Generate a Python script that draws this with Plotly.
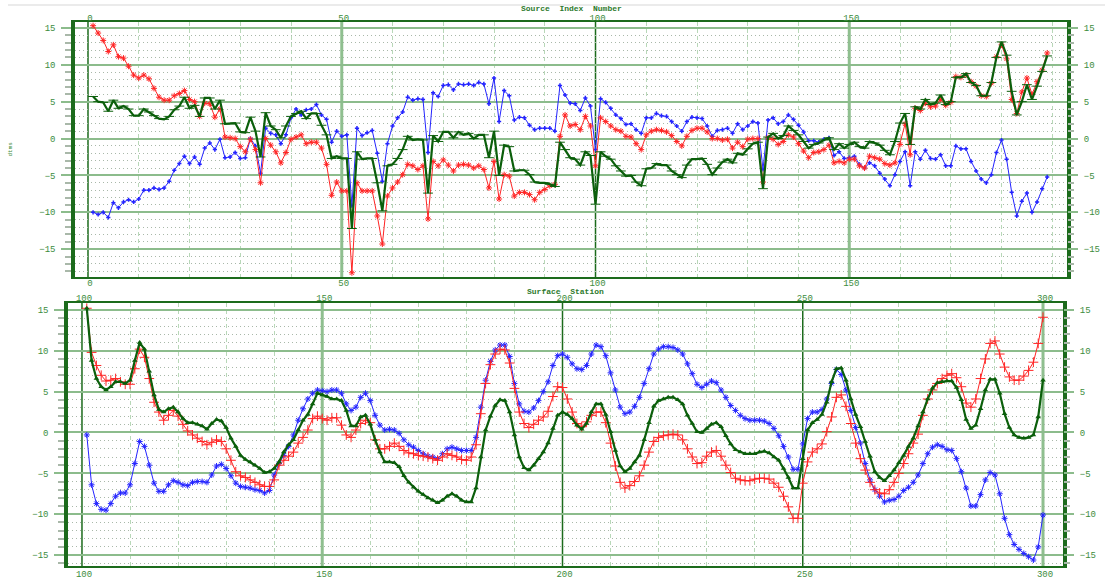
import plotly.graph_objects as go

# ---------------- Source Index Number panel ----------------
src_index = list(range(1, 190))

src_red = [
    15.3, 14.3, 13.3, 11.8, 12.7, 11.1, 10.9, 9.8, 8.6, 8.2,
    8.6, 8.1, 6.8, 5.6, 5.2, 5.2, 5.8, 6.1, 6.5, 5.3,
    5.0, 3.0, 4.8, 4.7, 2.9, 4.0, 0.2, 0.1, 0.0, -1.1,
    -1.8, -0.1, -1.5, -6.0, 0.0, -0.9, -1.8, -3.3, -1.9, -0.1,
    0.2, 0.5, -0.7, -0.5, -0.5, -1.3, -3.5, -7.7, -5.9, -7.1,
    -7.1, -18.2, -6.0, -7.1, -7.1, -7.1, -10.5, -14.3, -7.8, -6.7,
    -5.9, -4.9, -3.5, -3.7, -4.2, -3.7, -10.9, -3.1, -3.7, -2.9,
    -3.6, -4.4, -3.6, -3.5, -3.6, -4.0, -3.7, -4.2, -6.7, -3.1,
    -8.2, -4.9, -5.1, -7.8, -7.3, -7.3, -7.6, -8.3, -7.3, -6.9,
    -6.4, -6.2, 0.3, 3.2, 1.7, 1.9, 1.2, 3.0, 1.7, -3.7,
    2.8, 2.3, 1.7, 1.2, 1.0, 0.3, 0.2, -0.7, -1.5, 0.5,
    1.0, 1.2, 1.1, 0.9, 0.4, -0.4, -1.0, 0.3, 1.1, 1.4,
    1.4, 0.9, 0.0, 0.0, -0.2, -0.1, -1.3, -0.5, -1.1, -0.1,
    0.0, 0.0, -5.9, 0.1, -0.1, -0.8, -0.4, 0.5, 0.2, -0.7,
    -1.7, -2.6, -1.9, -1.8, -1.5, -0.9, -3.3, -3.1, -3.3, -2.8,
    -2.8, -3.7, -4.0, -2.4, -2.6, -2.8, -3.4, -3.6, -3.3, -0.8,
    2.0, -2.2, 4.1, 3.8, 4.8, 4.3, 4.4, 5.3, 4.5, 4.9,
    8.4, 8.3, 8.6, 7.7, 7.1, 5.8, 5.7, 7.5, 11.1, 12.7,
    10.8, 5.3, 3.4, 6.3, 8.2, 6.0, 7.7, 9.3, 11.6,
]

src_blue = [
    -10.0, -10.3, -10.0, -10.7, -8.7, -9.4, -8.6, -8.3, -8.6, -8.2,
    -7.0, -7.0, -6.7, -6.9, -6.7, -5.8, -4.3, -3.4, -2.4, -3.4,
    -2.5, -3.5, -1.3, -0.6, -1.5, -0.1, -2.6, -2.5, -1.9, -2.7,
    -2.6, 0.0, -1.0, -4.7, 1.4, 0.7, 0.5, -0.7, 0.5, 2.8,
    4.0, 3.2, 3.9, 4.0, 4.6, 3.2, 2.6, -0.5, 1.0, 0.3,
    0.5, -9.1, 1.4, 0.4, 0.8, 1.1, -2.0, -5.8, -0.7, 1.7,
    2.8, 3.6, 5.6, 5.2, 5.4, 5.3, -1.9, 6.2, 5.7, 7.2,
    7.3, 6.6, 7.4, 7.3, 7.4, 7.2, 7.6, 7.4, 4.7, 8.2,
    2.3, 6.5, 5.8, 2.5, 2.9, 2.8, 1.8, 1.2, 1.4, 1.4,
    1.4, 1.0, 7.2, 5.9, 4.8, 4.7, 3.8, 5.5, 4.4, -1.5,
    5.4, 4.9, 4.1, 3.2, 2.7, 1.9, 2.0, 1.2, 0.7, 2.8,
    2.8, 3.4, 3.1, 3.0, 2.3, 1.7, 1.0, 2.3, 2.9, 2.8,
    2.7, 1.7, 0.3, 1.1, 1.2, 1.4, 0.7, 2.0, 1.2, 1.7,
    2.3, 2.1, -4.2, 2.5, 2.8, 2.0, 2.3, 3.2, 2.6, 1.8,
    0.9, -0.3, -0.3, -0.5, -0.1, 0.1, -2.3, -1.8, -2.7, -2.6,
    -2.4, -3.5, -4.0, -3.3, -3.7, -4.7, -5.5, -6.4, -4.9, -3.1,
    -1.8, -6.4, -1.8, -2.8, -1.6, -2.7, -2.8, -2.2, -3.7, -3.7,
    -1.0, -1.4, -1.4, -3.1, -4.4, -5.5, -6.0, -4.9, -1.9, -0.2,
    -2.8, -7.3, -10.5, -8.5, -7.4, -10.0, -8.6, -6.8, -5.2,
]

src_green = [
    5.7, 5.0, 4.9, 3.7, 5.2, 4.1, 4.4, 4.0, 3.1, 3.1,
    4.0, 3.6, 3.1, 2.7, 2.6, 3.0, 3.9, 4.4, 5.6, 4.1,
    4.5, 3.0, 5.5, 5.5, 4.0, 5.2, 2.0, 2.0, 2.1, 0.9,
    0.8, 2.9, 1.0, -2.5, 3.5, 1.7, 1.2, 0.1, 1.7, 3.0,
    3.4, 3.7, 2.7, 3.4, 3.4, 1.8, 0.5, -2.7, -2.4, -2.7,
    -2.7, -12.2, -1.8, -2.8, -2.7, -2.7, -6.0, -9.8, -3.7, -3.5,
    -2.7, -1.5, 0.3, -0.2, -0.1, -0.2, -7.4, 0.4, -0.4, 0.9,
    0.9, 0.1, 0.9, 0.5, 0.7, 0.0, 0.5, 0.5, -2.6, 1.0,
    -5.0, -0.9, -1.1, -4.4, -4.3, -4.3, -4.9, -5.9, -6.0, -6.0,
    -6.2, -6.5, -0.5, -1.5, -2.6, -2.8, -3.6, -1.8, -2.3, -8.9,
    -1.8, -2.4, -2.8, -3.7, -4.4, -5.1, -5.0, -5.9, -6.4, -4.1,
    -4.0, -3.4, -3.6, -3.6, -4.4, -4.9, -5.3, -3.6, -2.8, -2.8,
    -2.7, -3.5, -4.9, -4.0, -3.2, -2.8, -3.3, -2.0, -2.2, -1.4,
    -0.7, -0.5, -6.8, 0.2, 0.7, 0.0, 0.4, 1.7, 1.1, 0.5,
    -0.4, -1.3, -0.8, -0.6, -0.2, 0.1, -1.5, -0.7, -1.3, -0.8,
    -0.5, -1.1, -1.3, -0.4, -0.6, -0.9, -1.6, -2.2, -0.4, 2.1,
    3.4, -0.8, 4.3, 4.0, 5.3, 4.6, 4.8, 5.9, 4.6, 5.0,
    8.3, 8.3, 8.8, 7.6, 7.2, 5.8, 5.8, 7.6, 11.0, 13.1,
    11.3, 6.4, 3.2, 5.0, 7.3, 5.3, 7.1, 9.1, 11.2,
]

# ---------------- Surface Station panel ----------------
station = list(range(101, 301))

sta_red = [
    15.2, 9.8, 8.2, 7.0, 6.3, 6.4, 6.6, 6.2, 5.9, 5.9,
    7.8, 10.2, 9.2, 6.6, 3.7, 2.5, 1.5, 2.1, 2.7, 2.0,
    1.0, 0.2, -0.3, -0.7, -1.1, -1.5, -1.2, -0.9, -1.1, -2.0,
    -3.4, -4.8, -5.3, -5.5, -5.8, -6.1, -6.4, -6.6, -6.6, -5.8,
    -4.0, -3.4, -2.9, -2.4, -1.3, -0.6, 0.3, 1.7, 2.0, 1.7,
    1.5, 1.8, 1.8, 0.9, -0.3, -0.6, 0.3, 1.1, 1.5, 1.2,
    -0.9, -2.0, -2.0, -1.7, -1.3, -1.7, -2.2, -2.5, -2.6, -2.8,
    -2.9, -3.0, -3.2, -3.4, -3.0, -2.6, -2.8, -3.0, -3.3, -3.4,
    -3.0, -1.5, 2.3, 6.0, 8.3, 9.6, 10.2, 10.1, 8.5, 5.4,
    2.5, 1.1, 0.6, 1.0, 1.5, 1.9, 2.6, 4.4, 5.6, 5.5,
    4.1, 2.5, 1.1, 0.7, 1.3, 2.1, 2.5, 2.5, 1.2, -1.3,
    -4.1, -6.1, -6.8, -6.5, -6.0, -5.3, -4.0, -2.4, -1.1, -0.6,
    -0.4, -0.3, -0.2, -0.3, -0.9, -2.0, -3.0, -3.8, -3.7, -2.9,
    -2.4, -2.2, -2.9, -4.0, -4.9, -5.6, -5.8, -5.9, -5.9, -5.7,
    -5.6, -5.6, -5.7, -6.2, -6.7, -7.8, -9.1, -10.5, -10.5, -6.2,
    -3.6, -2.4, -2.0, -1.4, 0.1, 1.9, 4.3, 4.6, 3.2, 1.1,
    -1.3, -3.2, -4.6, -6.1, -7.0, -7.4, -7.5, -7.0, -6.1, -5.0,
    -3.8, -2.6, -1.3, -0.2, 2.1, 4.1, 5.2, 6.0, 6.6, 7.0,
    7.2, 6.7, 5.6, 3.6, 3.1, 4.1, 6.6, 9.0, 10.9, 11.2,
    9.6, 8.0, 6.8, 6.4, 6.4, 6.9, 7.6, 8.6, 10.9, 14.1,
]

sta_blue = [
    -0.3, -6.4, -8.7, -9.4, -9.5, -8.7, -7.8, -7.4, -7.4, -6.4,
    -3.8, -1.1, -1.7, -4.0, -6.2, -7.2, -7.2, -6.4, -5.9, -6.1,
    -6.4, -6.5, -6.1, -6.0, -6.0, -6.1, -5.2, -4.1, -3.9, -4.4,
    -5.3, -6.2, -6.6, -6.7, -6.8, -7.0, -7.1, -7.4, -7.1, -5.2,
    -3.8, -2.8, -1.7, -0.3, 1.5, 2.9, 4.1, 4.8, 5.2, 5.1,
    5.0, 5.2, 5.2, 4.8, 3.5, 2.7, 3.1, 4.3, 4.8, 3.9,
    2.1, 0.9, 0.3, 0.4, 0.3, -0.1, -0.9, -1.5, -1.8, -2.2,
    -2.6, -2.9, -3.0, -3.2, -2.6, -2.0, -1.8, -2.0, -2.2, -2.2,
    -2.2, -0.6, 3.1, 6.4, 8.7, 10.1, 10.7, 10.7, 9.3, 6.0,
    3.5, 2.6, 2.5, 3.0, 3.9, 5.0, 6.2, 8.2, 9.4, 9.6,
    9.2, 8.4, 7.8, 7.7, 8.2, 9.6, 10.7, 10.5, 9.4, 7.3,
    5.2, 3.1, 2.3, 2.5, 3.2, 4.3, 6.0, 7.8, 9.6, 10.2,
    10.5, 10.5, 10.4, 10.1, 9.6, 8.4, 7.2, 5.9, 5.5, 5.9,
    6.3, 6.1, 5.2, 4.3, 3.3, 2.7, 2.1, 1.7, 1.5, 1.5,
    1.5, 1.4, 1.1, 0.5, -0.4, -1.7, -3.0, -4.5, -4.5, -1.4,
    1.7, 2.5, 2.5, 2.8, 4.1, 6.0, 7.7, 7.1, 5.2, 2.7,
    0.6, -1.3, -3.8, -5.8, -7.0, -7.8, -8.5, -8.3, -8.2, -7.8,
    -7.1, -6.7, -6.1, -5.2, -3.8, -2.6, -1.8, -1.5, -1.7, -2.1,
    -2.2, -3.2, -4.8, -6.8, -9.0, -9.0, -7.6, -5.8, -4.9, -5.2,
    -7.5, -10.5, -12.5, -13.7, -14.3, -14.8, -15.2, -15.6, -14.0, -10.1,
]

sta_green = [
    15.2, 8.8, 6.6, 5.6, 5.2, 5.6, 6.2, 6.2, 6.0, 6.4,
    8.8, 11.0, 10.2, 7.5, 4.6, 2.8, 2.5, 2.9, 3.1, 2.5,
    1.7, 1.2, 1.2, 1.0, 0.8, 0.4, 1.1, 1.6, 1.4, 0.6,
    -0.7, -1.7, -2.8, -3.3, -3.6, -4.0, -4.4, -4.9, -4.8, -4.4,
    -3.6, -2.4, -1.5, -0.9, 0.3, 1.5, 2.2, 3.5, 4.8, 4.6,
    4.4, 4.1, 4.1, 3.9, 2.7, 0.8, 0.8, 1.9, 2.1, 1.0,
    -0.9, -2.4, -3.6, -3.6, -3.7, -4.2, -5.3, -6.1, -6.7, -7.2,
    -7.6, -8.0, -8.3, -8.6, -8.3, -7.8, -7.5, -7.8, -8.3, -8.5,
    -8.5, -6.8, -3.0, 0.3, 2.0, 3.3, 4.0, 3.9, 2.5, -0.3,
    -3.0, -4.3, -4.6, -4.0, -3.2, -2.4, -1.3, 0.5, 2.1, 2.5,
    2.2, 1.7, 0.9, 0.4, 1.1, 2.5, 3.5, 3.5, 2.2, 0.1,
    -2.2, -4.1, -4.8, -4.4, -3.6, -2.8, -0.9, 1.2, 3.2, 3.9,
    4.1, 4.3, 4.3, 4.0, 3.5, 2.1, 1.1, 0.1, 0.0, 0.5,
    1.0, 1.2, 0.7, -0.4, -1.4, -2.1, -2.4, -2.6, -2.6, -2.6,
    -2.4, -2.3, -2.5, -3.0, -3.4, -4.4, -5.5, -6.8, -6.8, -3.2,
    0.3, 1.2, 1.6, 2.2, 3.7, 6.2, 7.8, 7.9, 6.4, 4.1,
    2.2, 0.7, -1.1, -2.9, -4.8, -5.5, -5.9, -5.3, -4.6, -3.7,
    -2.8, -1.7, -0.7, 0.8, 2.5, 4.1, 5.4, 6.1, 6.2, 6.3,
    6.3, 5.5, 4.0, 1.6, 0.5, 0.9, 2.9, 5.2, 6.5, 6.5,
    4.8, 2.3, 0.6, -0.3, -0.6, -0.7, -0.6, -0.3, 1.9, 6.4,
]

# ---------------- styling ----------------
W, H = 1105, 580
FRAME = "#1c6b1c"
MAJOR = "#8cbc8c"
MINOR_H = "#a9b8a9"
MINOR_V = "#b8d8b8"
LABEL = "#3c8c3c"
FONT = "Liberation Mono"

RED_LINE = "#ff2424"
BLUE_LINE = "#2424ff"
GREEN_LINE = "#0b5f0b"

fig = go.Figure()

# top panel traces
fig.add_trace(go.Scatter(
    x=src_index, y=src_blue, mode="lines+markers", xaxis="x", yaxis="y",
    line=dict(color=BLUE_LINE, width=1),
    marker=dict(symbol="cross-thin-open", size=3, line=dict(color="#2020e0", width=1.5)),
    showlegend=False))
fig.add_trace(go.Scatter(
    x=src_index, y=src_red, mode="lines+markers", xaxis="x", yaxis="y",
    line=dict(color=RED_LINE, width=1),
    marker=dict(symbol="asterisk-open", size=5, line=dict(color="rgba(255,120,120,0.6)", width=1)),
    showlegend=False))
fig.add_trace(go.Scatter(
    x=src_index, y=src_green, mode="lines+markers", xaxis="x", yaxis="y",
    line=dict(color=GREEN_LINE, width=2.2),
    marker=dict(symbol="line-ew-open", size=7, line=dict(color="rgba(60,140,60,0.6)", width=1)),
    showlegend=False))

# bottom panel traces
fig.add_trace(go.Scatter(
    x=station, y=sta_blue, mode="lines+markers", xaxis="x3", yaxis="y3",
    line=dict(color=BLUE_LINE, width=1),
    marker=dict(symbol="asterisk-open", size=5, line=dict(color="rgba(120,120,255,0.6)", width=1)),
    showlegend=False))
fig.add_trace(go.Scatter(
    x=station, y=sta_red, mode="lines+markers", xaxis="x3", yaxis="y3",
    line=dict(color=RED_LINE, width=1),
    marker=dict(symbol="cross-thin-open", size=7, line=dict(color="rgba(255,120,120,0.6)", width=1)),
    showlegend=False))
fig.add_trace(go.Scatter(
    x=station, y=sta_green, mode="lines+markers", xaxis="x3", yaxis="y3",
    line=dict(color=GREEN_LINE, width=2.2),
    marker=dict(symbol="triangle-up", size=5, color="#0b5f0b"),
    showlegend=False))

# invisible carriers so the mirrored label axes are drawn
fig.add_trace(go.Scatter(x=src_index[:1], y=src_red[:1], xaxis="x2", yaxis="y2",
                         mode="markers", marker=dict(opacity=0), hoverinfo="skip", showlegend=False))
fig.add_trace(go.Scatter(x=station[:1], y=sta_red[:1], xaxis="x4", yaxis="y4",
                         mode="markers", marker=dict(opacity=0), hoverinfo="skip", showlegend=False))

tickfont = dict(family=FONT, size=9, color=LABEL)

top_xr = [-2.56, 192.9]
top_yr = [-18.78, 15.81]
bot_xr = [97.09, 304.16]
bot_yr = [-16.34, 15.85]

top_xdom = [75 / W, 1067 / W]
top_ydom = [(H - 278) / H, (H - 22) / H]
bot_xdom = [68 / W, 1063 / W]
bot_ydom = [(H - 568) / H, (H - 304) / H]


def x_main(dom, rng, anchor, tick0, standoff):
    return dict(domain=dom, range=rng, anchor=anchor, tick0=tick0, dtick=50,
                showgrid=False, zeroline=False, ticks="",
                minor=dict(dtick=10, tick0=tick0, showgrid=True, griddash="4px,3px",
                           gridcolor=MINOR_V, gridwidth=1),
                showline=True, linecolor=FRAME, linewidth=1.5, mirror=True,
                tickfont=tickfont, ticklabelshift=2, ticklabelstandoff=standoff)


def y_main(dom, rng, anchor):
    return dict(domain=dom, range=rng, anchor=anchor, tick0=0, dtick=5,
                showgrid=True, gridcolor=MAJOR, gridwidth=1.5, zeroline=False,
                ticks="outside", ticklen=10, tickcolor=MAJOR, tickwidth=1.5,
                minor=dict(dtick=1, tick0=0, showgrid=True, griddash="1px,3px",
                           gridcolor=MINOR_H, gridwidth=1, ticks="outside",
                           ticklen=6, tickcolor=MINOR_H),
                showline=True, linecolor=FRAME, linewidth=3.5, mirror=True,
                tickfont=tickfont, ticklabelstandoff=4)


def x_top(over, rng, anchor, tick0, standoff):
    return dict(overlaying=over, side="top", range=rng, anchor=anchor, tick0=tick0, dtick=50,
                showgrid=False, zeroline=False, ticks="", showline=False,
                tickfont=tickfont, ticklabelshift=2, ticklabelstandoff=standoff)


def y_right(over, rng, anchor):
    return dict(overlaying=over, side="right", range=rng, anchor=anchor, tick0=0, dtick=5,
                showgrid=False, zeroline=False, showline=False,
                ticks="outside", ticklen=10, tickcolor=MAJOR, tickwidth=1.5,
                minor=dict(dtick=1, tick0=0, ticks="outside", ticklen=6, tickcolor=MINOR_H),
                tickfont=tickfont, ticklabelstandoff=4)


# major vertical lines: thin dark ones and broad light ones
shapes = []
for xv, col, wd in [(0, FRAME, 1.5), (50, "#8fbf8f", 3), (100, FRAME, 1.5), (150, "#8fbf8f", 3)]:
    shapes.append(dict(type="line", xref="x", yref="y domain", x0=xv, x1=xv, y0=0, y1=1,
                       line=dict(color=col, width=wd), layer="below"))
for xv, col, wd in [(100, FRAME, 1.5), (150, "#8fbf8f", 3), (200, FRAME, 1.5),
                    (250, FRAME, 1.5), (300, "#8fbf8f", 3)]:
    shapes.append(dict(type="line", xref="x3", yref="y3 domain", x0=xv, x1=xv, y0=0, y1=1,
                       line=dict(color=col, width=wd), layer="below"))
# thin rule across the top of the page
shapes.append(dict(type="line", xref="paper", yref="paper", x0=8 / W, x1=1, y0=(H - 5) / H,
                   y1=(H - 5) / H, line=dict(color="#e4e4e4", width=1.5)))

NB = "\u00a0"
annotations = [
    dict(text="<b>Source" + NB + " Index" + NB + " Number</b>", xref="paper", yref="paper",
         x=571 / W, y=(H - 9) / H, showarrow=False, xanchor="center", yanchor="middle",
         font=dict(family=FONT, size=8, color="#2c7a2c")),
    dict(text="<b>Surface" + NB + " Station</b>", xref="paper", yref="paper",
         x=565 / W, y=(H - 292.5) / H, showarrow=False, xanchor="center", yanchor="middle",
         font=dict(family=FONT, size=8, color="#2c7a2c")),
    dict(text="dtms", xref="paper", yref="paper", x=10 / W, y=(H - 150) / H,
         showarrow=False, textangle=-90, xanchor="center", yanchor="middle",
         font=dict(family=FONT, size=6, color="#3c8c3c")),
]

fig.update_layout(
    width=W, height=H,
    margin=dict(l=0, r=0, t=0, b=0),
    paper_bgcolor="white", plot_bgcolor="white",
    showlegend=False,
    xaxis=x_main(top_xdom, top_xr, "y", 0, -4),
    yaxis=y_main(top_ydom, top_yr, "x"),
    xaxis2=x_top("x", top_xr, "y", 0, -2),
    yaxis2=y_right("y", top_yr, "x"),
    xaxis3=x_main(bot_xdom, bot_xr, "y3", 100, -2),
    yaxis3=y_main(bot_ydom, bot_yr, "x3"),
    xaxis4=x_top("x3", bot_xr, "y3", 100, -1),
    yaxis4=y_right("y3", bot_yr, "x3"),
    shapes=shapes,
    annotations=annotations,
)

fig.write_html("out.html")
